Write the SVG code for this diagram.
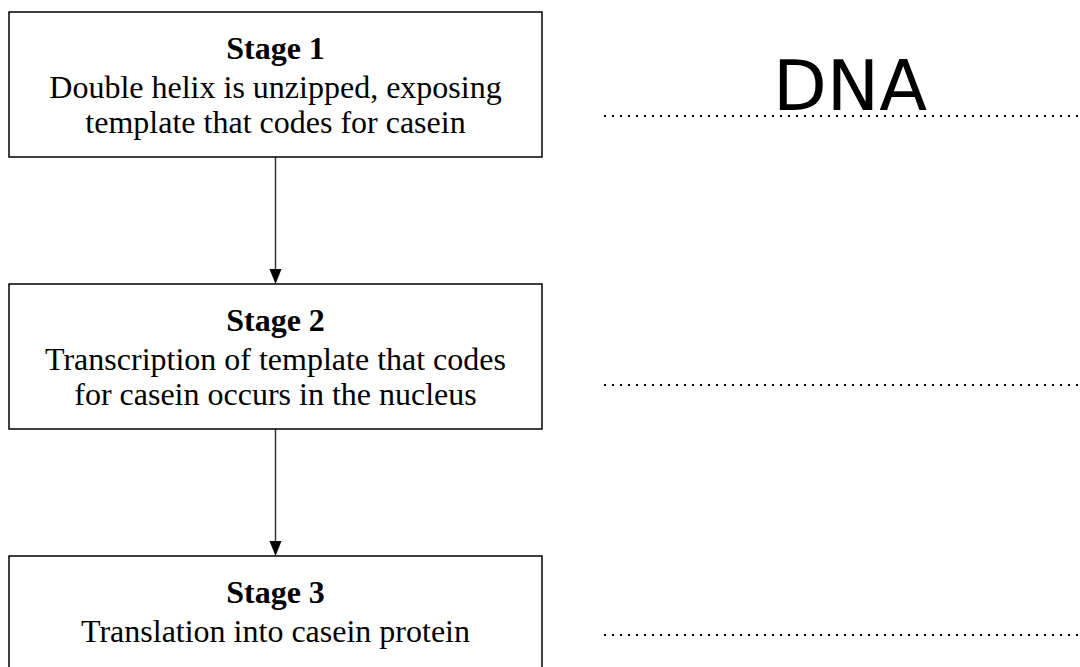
<svg xmlns="http://www.w3.org/2000/svg" width="1080" height="667" viewBox="0 0 1080 667">
<style>
.box{fill:#fff;stroke:#000;stroke-width:1.5}
.t{font-family:"Liberation Serif","Times New Roman",serif;font-size:32px;fill:#000;text-anchor:middle}
.b{font-weight:bold}
.conn{stroke:#333;stroke-width:1.5;fill:none}
.head{fill:#000}
.dot{stroke:#000;stroke-width:2;stroke-dasharray:2 6;fill:none}
.dna{font-family:"Comic Sans MS","DejaVu Sans",sans-serif;font-size:70px;fill:#000;text-anchor:middle}
</style>
<rect width="1080" height="667" fill="#fff"/>
<g id="connectors">
<line class="conn" x1="275.5" y1="157" x2="275.5" y2="270"/>
<path class="head" d="M269.5,269 L281.5,269 L275.5,284 Z"/>
<line class="conn" x1="275.5" y1="429" x2="275.5" y2="542"/>
<path class="head" d="M269.5,541 L281.5,541 L275.5,556 Z"/>
</g>
<g id="stage1">
<rect class="box" x="9" y="12" width="533" height="145"/>
<text class="t b" x="275.5" y="59">Stage 1</text>
<text class="t" x="275.5" y="98">Double helix is unzipped, exposing</text>
<text class="t" x="275.5" y="133">template that codes for casein</text>
</g>
<g id="stage2">
<rect class="box" x="9" y="284" width="533" height="145"/>
<text class="t b" x="275.5" y="331">Stage 2</text>
<text class="t" x="275.5" y="370">Transcription of template that codes</text>
<text class="t" x="275.5" y="405">for casein occurs in the nucleus</text>
</g>
<g id="stage3">
<rect class="box" x="9" y="556" width="533" height="130"/>
<text class="t b" x="275.5" y="603">Stage 3</text>
<text class="t" x="275.5" y="642">Translation into casein protein</text>
</g>
<g id="answers">
<text class="dna" x="850" y="110">DNA</text>
<line class="dot" x1="604" y1="116" x2="1080" y2="116"/>
<line class="dot" x1="604" y1="385" x2="1080" y2="385"/>
<line class="dot" x1="604" y1="635" x2="1080" y2="635"/>
</g>
</svg>
